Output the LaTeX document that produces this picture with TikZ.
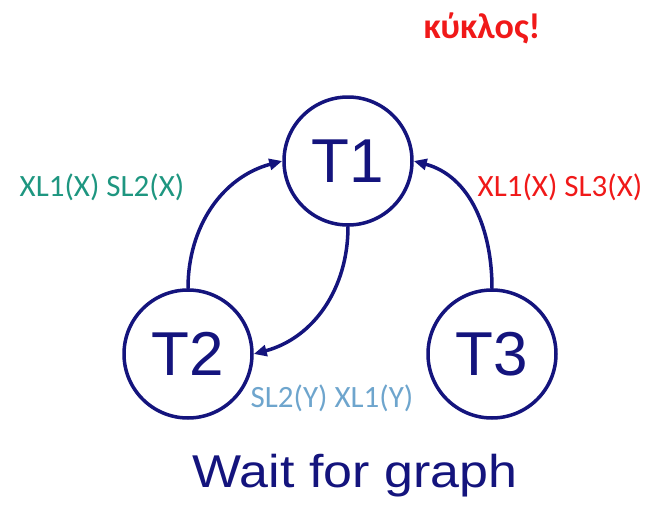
\documentclass[tikz,border=0pt]{standalone}
\usepackage{fontspec}
\usepackage{graphicx}
\setmainfont{Liberation Sans}
\newfontfamily\lblfont{Carlito}
\usetikzlibrary{arrows.meta}
\definecolor{navy}{RGB}{20,20,125}
\definecolor{lblteal}{RGB}{30,150,128}
\definecolor{lblred}{RGB}{240,25,25}
\definecolor{lblblue}{RGB}{110,165,205}
\begin{document}
\begin{tikzpicture}[x=1pt, y=-1pt, line join=round, line cap=round, >={Triangle[length=13pt,width=11pt]},
    tnode/.style={circle, draw=navy, line width=3.5pt, minimum size=128pt, inner sep=0pt, text=navy, font=\fontsize{62}{62}\selectfont},
    lbl/.style={font=\lblfont\fontsize{31}{31}\selectfont},
    edge/.style={->, draw=navy, line width=3.5pt}]
	\useasboundingbox (0,0) rectangle (649,509);
	\node[tnode] (t1) at (348,161) {T1};
	\node[tnode] (t2) at (188,354) {T2};
	\node[tnode] (t3) at (492,354) {T3};
	\draw[edge] (t2.north) to[out=90, in=195] (t1.west);
	\draw[edge] (t1.south) to[out=-90, in=15] (t2.east);
	\draw[edge] (t3.north) to[out=90, in=-15] (t1.east);
	\node[lbl, text=lblteal] (l12) at (102,187) {XL1(X) SL2(X)};
	\node[lbl, text=lblred] (l31) at (560,187) {XL1(X) SL3(X)};
	\node[lbl, text=lblblue] (l21) at (332,398) {SL2(Y) XL1(Y)};
	\node[font=\lblfont\bfseries\fontsize{36}{36}\selectfont, text=lblred] (cyc) at (482,28) {κύκλος!};
	\node[text=navy, font=\fontsize{46}{46}\selectfont] (cap) at (355,476) {\scalebox{1.13}[1]{Wait for graph}};
\end{tikzpicture}
\end{document}
